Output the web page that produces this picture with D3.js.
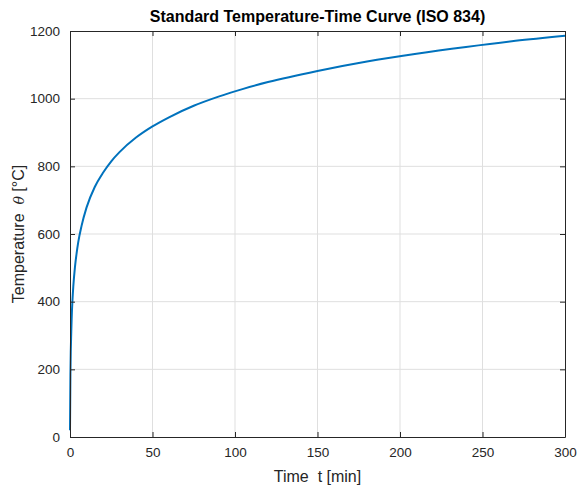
<!DOCTYPE html>
<html>
<head>
<meta charset="utf-8">
<script src="https://cdn.jsdelivr.net/npm/d3@7"></script>
<style>
  body { margin: 0; background: #fff; }
  text { font-family: "Liberation Sans", Arial, sans-serif; fill: #262626; white-space: pre; }
</style>
</head>
<body>
<div id="chart"></div>
<script>
'use strict';

// values (time in min, temperature in °C)
const timeMin = [0, 0.25, 0.5, 0.75, 1, 1.5, 2, 3, 4, 5, 7, 10, 15, 20, 25, 30, 40, 50, 60, 75, 90, 105, 120, 150, 180, 210, 240, 270, 300];
const tempC   = [20, 185, 261, 307, 349, 405, 445, 502, 543, 576, 624, 678, 739, 781, 815, 842, 885, 918, 945, 979, 1006, 1029, 1049, 1082, 1110, 1133, 1153, 1171, 1186];
const xTicks = [0, 50, 100, 150, 200, 250, 300];
const yTicks = [0, 200, 400, 600, 800, 1000, 1200];

const width = 579, height = 489;
const margin = {top: 31, right: 14, bottom: 52, left: 70};
const iw = width - margin.left - margin.right;
const ih = height - margin.top - margin.bottom;

const svg = d3.select('#chart').append('svg')
  .attr('width', width)
  .attr('height', height);

const g = svg.append('g')
  .attr('transform', `translate(${margin.left},${margin.top})`);

const x = d3.scaleLinear().domain([0, 300]).range([0, iw]);
const y = d3.scaleLinear().domain([0, 1200]).range([ih, 0]);

// grid
g.append('g').selectAll('line')
  .data(xTicks.slice(1, -1))
  .enter().append('line')
  .attr('x1', d => x(d)).attr('x2', d => x(d))
  .attr('y1', 0).attr('y2', ih)
  .style('stroke', '#dfdfdf').style('stroke-width', 1);

g.append('g').selectAll('line')
  .data(yTicks.slice(1, -1))
  .enter().append('line')
  .attr('x1', 0).attr('x2', iw)
  .attr('y1', d => y(d)).attr('y2', d => y(d))
  .style('stroke', '#dfdfdf').style('stroke-width', 1);

// curve
const line = d3.line()
  .x((d, i) => x(timeMin[i]))
  .y(d => y(d))
  .curve(d3.curveMonotoneX);

g.append('path')
  .datum(tempC)
  .attr('d', line)
  .attr('fill', 'none')
  .style('stroke', '#0072BD')
  .style('stroke-width', 2);

// axes (ticks inward, mirrored on top/right)
function styleAxis(sel) {
  sel.select('.domain').style('stroke', '#262626');
  sel.selectAll('.tick line').style('stroke', '#262626');
  sel.selectAll('text').style('font-size', '13.5px').style('fill', '#262626')
    .style('font-family', '"Liberation Sans", Arial, sans-serif');
}

const fmt = d3.format('d');

g.append('g')
  .attr('transform', `translate(0,${ih})`)
  .call(d3.axisBottom(x).tickValues(xTicks).tickSizeInner(-5).tickSizeOuter(0).tickPadding(10).tickFormat(fmt))
  .call(styleAxis);

g.append('g')
  .call(d3.axisTop(x).tickValues(xTicks).tickSizeInner(-5).tickSizeOuter(0).tickFormat(''))
  .call(styleAxis);

g.append('g')
  .call(d3.axisLeft(y).tickValues(yTicks).tickSizeInner(-5).tickSizeOuter(0).tickPadding(10).tickFormat(fmt))
  .call(styleAxis);

g.append('g')
  .attr('transform', `translate(${iw},0)`)
  .call(d3.axisRight(y).tickValues(yTicks).tickSizeInner(-5).tickSizeOuter(0).tickFormat(''))
  .call(styleAxis);

// title
svg.append('text')
  .attr('x', margin.left + iw / 2)
  .attr('y', 22)
  .attr('text-anchor', 'middle')
  .style('font-size', '16px')
  .style('font-weight', 'bold')
  .style('fill', '#000')
  .text('Standard Temperature-Time Curve (ISO 834)');

// x label
svg.append('text')
  .attr('x', margin.left + iw / 2)
  .attr('y', 482)
  .attr('text-anchor', 'middle')
  .style('font-size', '16px')
  .text('Time  t [min]');

// y label
const yl = svg.append('text')
  .attr('transform', `translate(24,${margin.top + ih / 2}) rotate(-90)`)
  .attr('text-anchor', 'middle')
  .style('font-size', '16px');
yl.append('tspan').text('Temperature  ');
yl.append('tspan').style('font-style', 'italic').style('font-family', '"DejaVu Serif", serif').style('font-size', '14px').text('θ');
yl.append('tspan').text(' [°C]');
</script>
</body>
</html>
